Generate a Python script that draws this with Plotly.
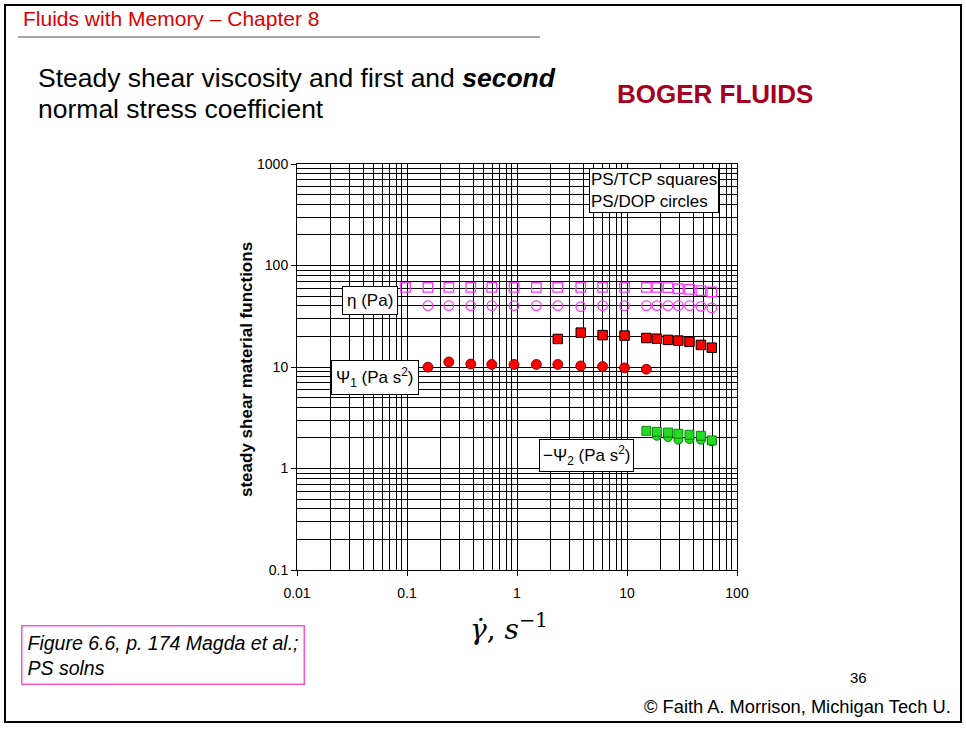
import plotly.graph_objects as go

# ---------------- data ----------------
shear_rate = [0.097, 0.155, 0.24, 0.38, 0.59, 0.94, 1.5, 2.35, 3.8, 6.0, 9.5,
              15, 18.7, 23.6, 29.3, 37, 47, 59]

eta_tcp = [61, 61, 61, 61, 61, 61, 61, 61, 61, 61, 61,
           61, 61, 60.5, 59, 58.3, 56.5, 54.8]              # squares, all shear_rate
eta_dop = [40.2, 40.2, 40.2, 40.2, 40.2, 40.2, 40.2, 39.3, 40.2, 40.2,
           40.2, 40.2, 40.2, 40.2, 40.2, 39.6, 38.2]          # circles, shear_rate[1:]

psi1_dop = [9.96, 11.2, 10.7, 10.6, 10.6, 10.6, 10.6, 10.25, 10.1, 9.8, 9.5]  # shear_rate[1:12]
psi1_tcp = [18.9, 21.8, 20.6, 20.4, 19.3, 19.0, 18.5, 18.2, 17.7, 16.5, 15.5]  # shear_rate[7:]

psi2_tcp = [2.35, 2.30, 2.26, 2.20, 2.15, 2.10, 1.89]       # shear_rate[11:]
psi2_dop = [2.10, 2.04, 1.92, 1.95, 1.92, 1.85]             # shear_rate[12:]

x_major = [0.01, 0.1, 1, 10, 100]
x_major_text = ["0.01", "0.1", "1", "10", "100"]
y_major = [0.1, 1, 10, 100, 1000]
y_major_text = ["0.1", "1", "10", "100", "1000"]

x_minor = [m * d for d in [0.01, 0.1, 1, 10] for m in range(2, 10)]
y_minor = [m * d for d in [0.1, 1, 10, 100] for m in range(2, 10)]

# ---------------- figure ----------------
FONT = "Arial, Liberation Sans, sans-serif"
MAG = "#FF33FF"
RED = "#FF0000"
GREEN = "#22DD22"

fig = go.Figure()
fig.add_trace(go.Scatter(x=shear_rate[1:], y=eta_dop, mode="markers",
                         marker=dict(symbol="circle-open", size=9.5, color=MAG, line=dict(width=1.3))))
fig.add_trace(go.Scatter(x=shear_rate, y=eta_tcp, mode="markers",
                         marker=dict(symbol="square-open", size=9.5, color=MAG, line=dict(width=1.3))))
fig.add_trace(go.Scatter(x=shear_rate[1:12], y=psi1_dop, mode="markers",
                         marker=dict(symbol="circle", size=10, color=RED, line=dict(width=0.8, color="#600000"))))
fig.add_trace(go.Scatter(x=shear_rate[7:], y=psi1_tcp, mode="markers",
                         marker=dict(symbol="square", size=9.5, color=RED, line=dict(width=1, color="black"))))
fig.add_trace(go.Scatter(x=shear_rate[12:], y=psi2_dop, mode="markers",
                         marker=dict(symbol="circle", size=9, color=GREEN, line=dict(width=0.8, color="#006600"))))
fig.add_trace(go.Scatter(x=shear_rate[11:], y=psi2_tcp, mode="markers",
                         marker=dict(symbol="square", size=9, color=GREEN, line=dict(width=0.8, color="#006600"))))

axis_common = dict(
    type="log", showgrid=True, gridcolor="black", gridwidth=1,
    showline=True, linecolor="black", linewidth=1, mirror=True,
    ticks="outside", ticklen=5, tickcolor="black", zeroline=False,
    tickfont=dict(family=FONT, size=14, color="black"),
)
fig.update_xaxes(range=[-2, 2], tickmode="array", tickvals=x_major, ticktext=x_major_text,
                 ticklabelstandoff=5,
                 minor=dict(tickmode="array", tickvals=x_minor, showgrid=True,
                            gridcolor="black", gridwidth=1, ticks=""),
                 **axis_common)
fig.update_yaxes(range=[-1, 3], tickmode="array", tickvals=y_major, ticktext=y_major_text,
                 minor=dict(tickmode="array", tickvals=y_minor, showgrid=True,
                            gridcolor="black", gridwidth=1, ticks=""),
                 **axis_common)

L, R, T, B = 297, 737, 164, 570


def px(xp, yp):
    return (xp - L) / (R - L), (B - yp) / (B - T)


annotations = []


def note(xp, yp, text, size=14, color="black", xanchor="center", yanchor="middle",
         box=None, align="left", family=FONT, angle=0, pad=3, bw=1):
    x, y = px(xp, yp)
    d = dict(x=x, y=y, xref="paper", yref="paper", text=text, showarrow=False,
             xanchor=xanchor, yanchor=yanchor, align=align, textangle=angle,
             font=dict(family=family, size=size, color=color))
    if box:
        d.update(bordercolor=box, borderwidth=bw, bgcolor="white", borderpad=pad)
    annotations.append(d)


# plot labels
note(369.5, 300.5, "η (Pa)", size=17, box="black", pad=4)
note(375, 377, "Ψ<sub>1</sub> (Pa s<sup>2</sup>)", size=17, box="black", pad=4)
note(586, 455, "−Ψ<sub>2</sub> (Pa s<sup>2</sup>)", size=17, box="black", pad=3)
note(654, 190.5, "PS/TCP squares<br>PS/DOP circles", size=17, box="black", pad=1)
note(246, 370, "<b>steady shear material functions</b>", size=17, angle=-90)
note(509, 627, "<i>γ̇</i>, <i>s</i><sup>−1</sup>", size=28, family="DejaVu Serif, serif")

# slide text
note(21, 19, "Fluids with Memory – Chapter 8", size=21, color="#DD0000", xanchor="left")
note(36, 78, "Steady shear viscosity and first and <b><i>second</i></b>", size=26.5, xanchor="left")
note(36, 109, "normal stress coefficient", size=26.5, xanchor="left")
note(715, 94, "<b>BOGER FLUIDS</b>", size=26, color="#A50021")
note(163, 655, "<i>Figure 6.6, p. 174 Magda et al.;<br>PS solns</i>", size=19.5, box="#FF55CC", pad=5, bw=1.5)
note(858, 677, "36", size=15)
note(953, 706, "© Faith A. Morrison, Michigan Tech U.", size=18.3, xanchor="right")

shapes = []
x0, y0 = px(5, 5)
x1, y1 = px(961, 722)
shapes.append(dict(type="rect", xref="paper", yref="paper", x0=x0, y0=y0, x1=x1, y1=y1,
                   line=dict(color="black", width=2)))
a0, b0 = px(18, 37)
a1, b1 = px(540, 37)
shapes.append(dict(type="line", xref="paper", yref="paper", x0=a0, y0=b0, x1=a1, y1=b1,
                   line=dict(color="#A6A6A6", width=2)))

fig.update_layout(
    width=966, height=730,
    margin=dict(l=L, r=966 - R, t=T, b=730 - B),
    paper_bgcolor="white", plot_bgcolor="white",
    showlegend=False,
    annotations=annotations, shapes=shapes,
)

fig.write_html("out.html", config={"displayModeBar": False},
               post_script="document.body.style.margin='0';document.body.style.overflow='hidden';")
